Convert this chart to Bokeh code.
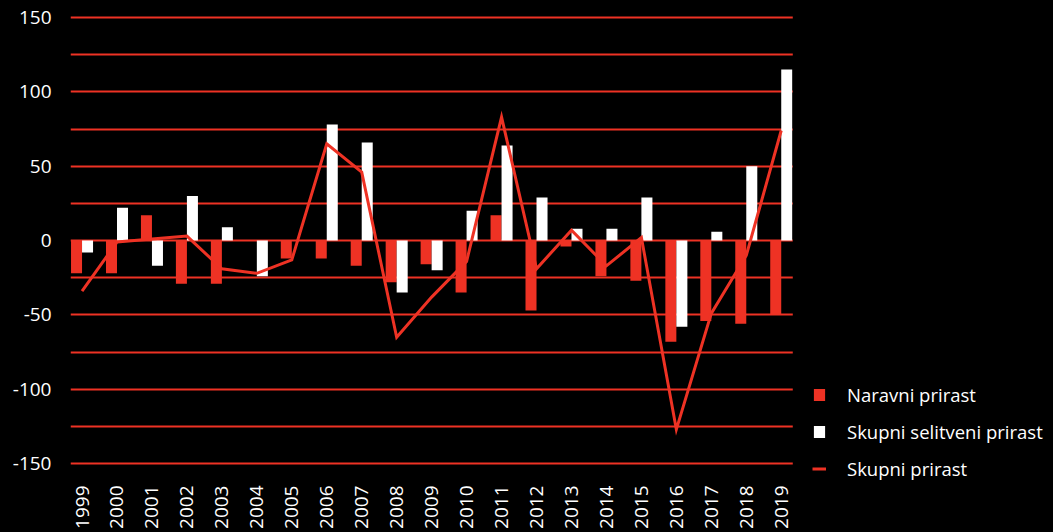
import math
from bokeh.plotting import figure
from bokeh.models import (ColumnDataSource, Range1d, SingleIntervalTicker, FixedTicker,
                          Legend, LegendItem, BoxAnnotation, GlobalInlineStyleSheet)
from bokeh.transform import dodge
from bokeh.embed import file_html
from bokeh.resources import INLINE

years = [1999, 2000, 2001, 2002, 2003, 2004, 2005, 2006, 2007, 2008, 2009,
         2010, 2011, 2012, 2013, 2014, 2015, 2016, 2017, 2018, 2019]
naravni = [-22, -22, 17, -29, -29, 0, -12, -12, -17, -28, -16,
           -35, 17, -47, -4, -24, -27, -68, -54, -56, -50]
selitveni = [-8, 22, -17, 30, 9, -24, 0, 78, 66, -35, -20,
             20, 64, 29, 8, 8, 29, -58, 6, 50, 115]
skupni = [-34, -1, 1, 3, -19, -22, -13, 65, 46, -65, -38,
          -14, 83, -19, 7, -17, 2, -127, -49, -10, 74]
y_ticks = [-150, -100, -50, 0, 50, 100, 150]
labels = ["Naravni prirast", "Skupni selitveni prirast", "Skupni prirast"]

RED = "#EE3224"
WHITE = "#FFFFFF"
FONT = "Open Sans"

W, H = 1053, 532
LEFT = 70            # frame left (px)
PX_PER_CAT = 34.96   # horizontal spacing of year groups (px)
X0 = -0.33           # data value at frame left
X_DATA_END = len(years) - 1 + 0.33
X1 = X0 + (W - LEFT) / PX_PER_CAT

idx = list(range(len(years)))
src = ColumnDataSource(dict(x=idx, nar=naravni, sel=selitveni, sku=skupni))

p = figure(width=W, height=H, output_backend="svg", toolbar_location=None,
           x_range=Range1d(X0, X1), y_range=Range1d(-162, 152),
           min_border_left=LEFT, min_border_right=0, min_border_top=14, min_border_bottom=51,
           background_fill_color="black", border_fill_color="black", outline_line_color=None)
p.stylesheets = [GlobalInlineStyleSheet(css="html, body { background-color: #000000; }")]

r_nar = p.vbar(x=dodge("x", -0.1575, range=p.x_range), top="nar", width=0.315, source=src,
               fill_color=RED, line_color=None)
r_sel = p.vbar(x=dodge("x", 0.1575, range=p.x_range), top="sel", width=0.315, source=src,
               fill_color=WHITE, line_color=None)
r_sku = p.line(x="x", y="sku", source=src, line_color=RED, line_width=3, line_join="miter")

# grid
p.xgrid.visible = False
p.ygrid.ticker = SingleIntervalTicker(interval=25)
p.ygrid.grid_line_color = RED
p.ygrid.grid_line_width = 2

# mask grid lines in the legend area
p.add_layout(BoxAnnotation(left=X_DATA_END, fill_color="black", fill_alpha=1,
                           line_color=None, line_alpha=0))

# y axis
p.yaxis.ticker = FixedTicker(ticks=y_ticks)
p.yaxis.major_label_overrides = {v: str(v) for v in y_ticks}
p.yaxis.axis_line_color = None
p.yaxis.major_tick_line_color = None
p.yaxis.minor_tick_line_color = None
p.yaxis.major_tick_out = 0
p.yaxis.major_tick_in = 0
p.yaxis.major_label_standoff = 19
p.yaxis.major_label_text_color = WHITE
p.yaxis.major_label_text_font = FONT
p.yaxis.major_label_text_font_size = "19px"

# x axis
p.xaxis.ticker = FixedTicker(ticks=idx)
p.xaxis.major_label_overrides = {i: str(y) for i, y in zip(idx, years)}
p.xaxis.major_label_orientation = math.pi / 2
p.xaxis.axis_line_color = None
p.xaxis.major_tick_line_color = None
p.xaxis.minor_tick_line_color = None
p.xaxis.major_tick_out = 0
p.xaxis.major_tick_in = 0
p.xaxis.major_label_standoff = 4
p.xaxis.major_label_text_color = WHITE
p.xaxis.major_label_text_font = FONT
p.xaxis.major_label_text_font_size = "19px"

legend = Legend(items=[LegendItem(label=labels[0], renderers=[r_nar]),
                       LegendItem(label=labels[1], renderers=[r_sel]),
                       LegendItem(label=labels[2], renderers=[r_sku])],
                location=(742, 0), orientation="vertical",
                background_fill_alpha=0, border_line_alpha=0,
                padding=0, margin=0, spacing=12,
                glyph_width=14, glyph_height=15, label_height=20,
                label_standoff=21,
                label_text_color=WHITE, label_text_font=FONT,
                label_text_font_size="18.5px")
p.add_layout(legend, "center")

open("out.html", "w").write(file_html(p, INLINE))
